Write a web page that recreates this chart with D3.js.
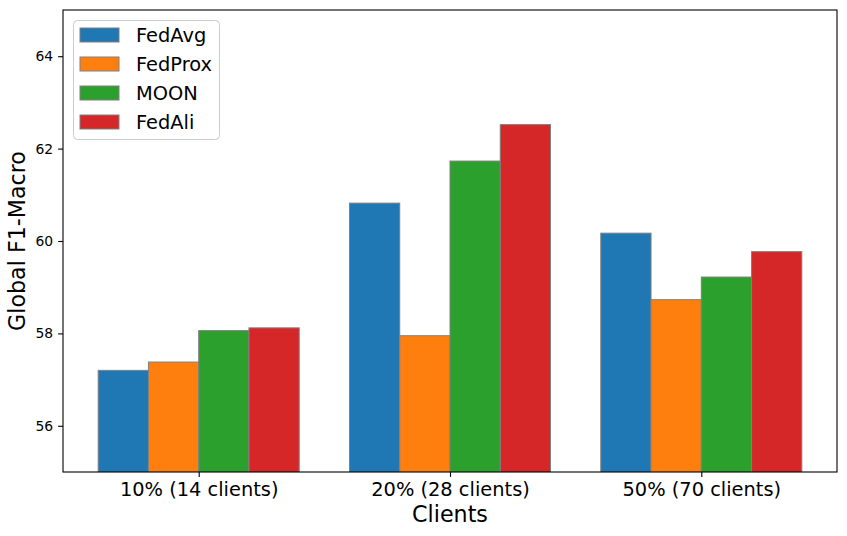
<!DOCTYPE html>
<html>
<head>
<meta charset="utf-8">
<script src="https://cdn.jsdelivr.net/npm/d3@7"></script>
<style>
  html, body { margin: 0; padding: 0; background: #fff; }
  svg { display: block; font-family: "DejaVu Sans", sans-serif; }
</style>
</head>
<body>
<svg id="chart" width="847" height="536"></svg>
<script>
const categories = ["10% (14 clients)", "20% (28 clients)", "50% (70 clients)"];
const methods = ["FedAvg", "FedProx", "MOON", "FedAli"];
const colors = ["#1f77b4", "#ff7f0e", "#2ca02c", "#d62728"];
const fedAvg  = [57.20, 60.82, 60.17];
const fedProx = [57.38, 57.95, 58.73];
const moon    = [58.06, 61.73, 59.22];
const fedAli  = [58.12, 62.52, 59.77];
const yTicks = [56, 58, 60, 62, 64];
const seriesValues = [fedAvg, fedProx, moon, fedAli];

(function () {
const svg = d3.select("#chart");
const mLeft = 63, mRight = 837, mTop = 10, mBottom = 472;
const barW = 0.2;

const x = d3.scaleLinear().domain([-0.54, 2.54]).range([mLeft, mRight]);
const y = d3.scaleLinear().domain([55, 65]).range([mBottom, mTop]);

svg.append("clipPath").attr("id", "clip")
  .append("rect").attr("x", mLeft).attr("y", mTop).attr("width", mRight - mLeft).attr("height", mBottom - mTop);

const gBars = svg.append("g").attr("clip-path", "url(#clip)");
seriesValues.forEach((vals, j) => {
  gBars.selectAll(null).data(vals).enter().append("rect")
    .attr("x", (d, i) => x(i + (j - 1.5) * barW - barW / 2))
    .attr("width", x(barW) - x(0))
    .attr("y", d => y(d))
    .attr("height", d => y(55) - y(d) + 2)
    .attr("fill", colors[j])
    .attr("stroke", "#808080")
    .attr("stroke-width", 1);
});

const yAxis = d3.axisLeft(y).tickValues(yTicks).tickSize(4.9).tickPadding(4.9).tickFormat(d3.format("d"));
const gy = svg.append("g").attr("transform", `translate(${mLeft},0)`).call(yAxis);
gy.select(".domain").remove();
gy.selectAll("text").attr("font-size", "13.9px").attr("fill", "#000").attr("font-family", "DejaVu Sans");
gy.selectAll("line").attr("stroke", "#000").attr("stroke-width", 1.1);

const xAxis = d3.axisBottom(x).tickValues([0, 1, 2]).tickSize(4.9).tickPadding(4.9)
  .tickFormat(d => categories[d]);
const gx = svg.append("g").attr("transform", `translate(0,${mBottom})`).call(xAxis);
gx.select(".domain").remove();
gx.selectAll("text").attr("font-size", "19.4px").attr("fill", "#000").attr("font-family", "DejaVu Sans");
gx.selectAll("line").attr("stroke", "#000").attr("stroke-width", 1.1);

svg.append("rect").attr("x", mLeft).attr("y", mTop).attr("width", mRight - mLeft).attr("height", mBottom - mTop)
  .attr("fill", "none").attr("stroke", "#000").attr("stroke-width", 1.1);

svg.append("text").attr("x", (mLeft + mRight) / 2).attr("y", 522).attr("text-anchor", "middle")
  .attr("font-size", "22.2px").attr("fill", "#000").text("Clients");
svg.append("text").attr("transform", `translate(25,${(mTop + mBottom) / 2}) rotate(-90)`).attr("text-anchor", "middle")
  .attr("font-size", "22.2px").attr("fill", "#000").text("Global F1-Macro");

const lg = svg.append("g");
lg.append("rect").attr("x", 73.5).attr("y", 20.5).attr("width", 146).attr("height", 119).attr("rx", 4)
  .attr("fill", "#fff").attr("fill-opacity", 0.8).attr("stroke", "#cccccc").attr("stroke-width", 1);
methods.forEach((m, j) => {
  const cy = 35 + j * 29;
  lg.append("rect").attr("x", 80).attr("y", cy - 7).attr("width", 39).attr("height", 14)
    .attr("fill", colors[j]).attr("stroke", "#808080").attr("stroke-width", 1);
  lg.append("text").attr("x", 136).attr("y", cy + 7).attr("font-size", "19.4px").attr("fill", "#000").text(m);
});
})();
</script>
</body>
</html>
